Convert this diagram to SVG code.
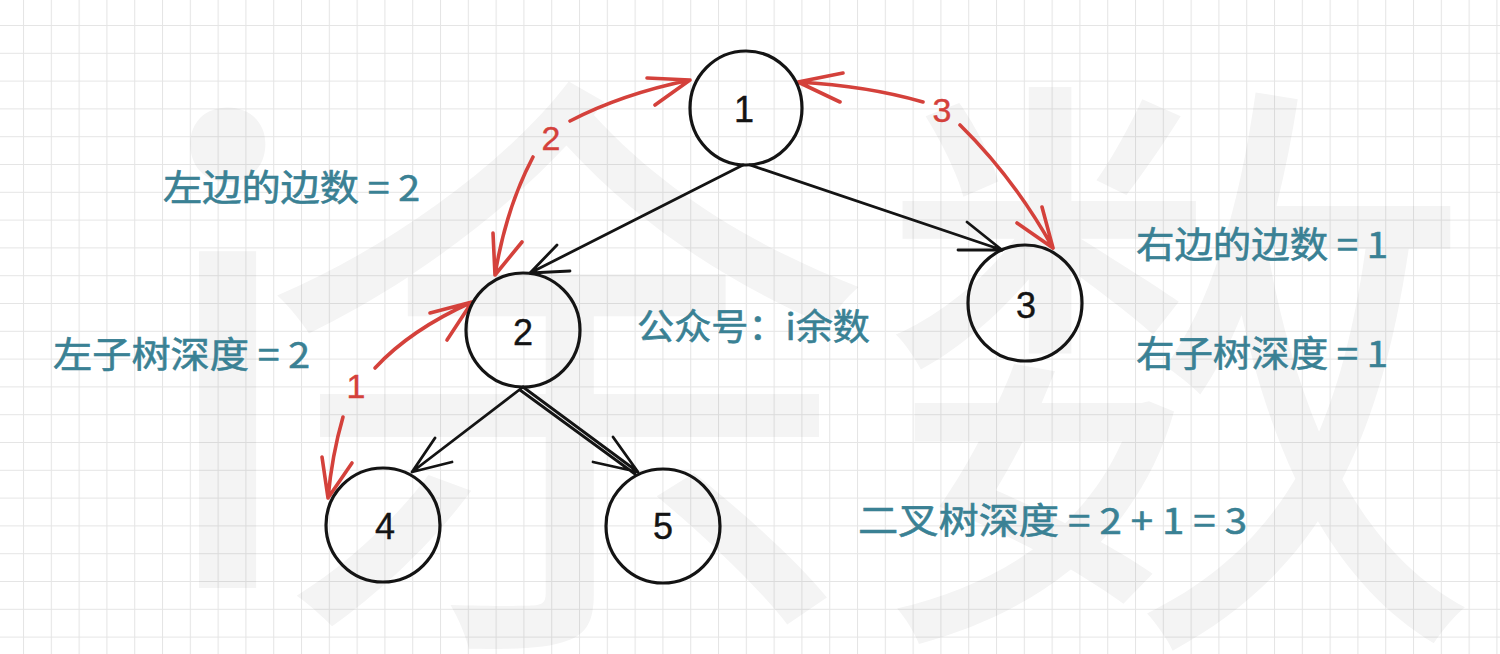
<svg xmlns="http://www.w3.org/2000/svg" width="1500" height="654" viewBox="0 0 1500 654">
<defs>
<pattern id="grid" patternUnits="userSpaceOnUse" x="23" y="25" width="27.8" height="27.8">
<path d="M0,0 H27.8 M0,0 V27.8" fill="none" stroke="rgba(0,0,0,0.1)" stroke-width="2"/>
</pattern>
<style>
.wm{font-family:"Noto Sans CJK SC","Noto Sans",sans-serif;fill:#f4f4f4;}
.lbl{font-family:"Noto Sans CJK SC","Noto Sans",sans-serif;font-size:36px;fill:#3a8194;stroke:#3a8194;stroke-width:0.6px;}
.node circle,.node ellipse{fill:none;stroke:#141414;stroke-width:3.2;}
.num{font-family:"Liberation Sans",Arial,sans-serif;font-size:36px;fill:#141414;text-anchor:middle;stroke:#141414;stroke-width:0.4px;}
.edge{fill:none;stroke:#141414;stroke-width:2.8;stroke-linecap:round;stroke-linejoin:round;}
.red{fill:none;stroke:#d4413b;stroke-width:3.6;stroke-linecap:round;stroke-linejoin:round;}
.rnum{font-family:"Liberation Sans",Arial,sans-serif;font-size:34px;fill:#d4413b;text-anchor:middle;stroke:#d4413b;stroke-width:0.4px;}
</style>
</defs>
<rect width="1500" height="654" fill="#ffffff"/>
<g id="watermark">
<text class="wm" x="142" y="588" font-size="620">i</text>
<text class="wm" x="262" y="600" font-size="610">余数</text>
</g>
<rect width="1500" height="654" fill="url(#grid)"/>
<g id="connectors">
<path class="edge" d="M743,165 L530,273 M557,245 L530,273 L570,271"/>
<path class="edge" d="M750,165 L1002,250 M967,222 L1002,250 L958,250" stroke-width="2.4"/>
<path class="edge" d="M523,387 L412,472 M435,438 L412,472 L452,462"/>
<path class="edge" d="M523,387 L638,472 M520,390 L635,474 M613,437 L638,472 L593,462"/>
<g id="arc-left-edges">
<path class="red" d="M690,80 Q622,94 570,121 M533,157 Q506,208 495,275 M647,78 L690,80 L655,105 M493,233 L495,275 L522,242"/>
<text class="rnum" x="551" y="150">2</text>
</g>
<g id="arc-right-edges">
<path class="red" d="M798,82 Q868,86 923,102 M960,125 Q1014,178 1053,248 M843,73 L798,82 L840,102 M1017,223 L1053,248 L1042,207"/>
<text class="rnum" x="942" y="122">3</text>
</g>
<g id="arc-left-depth">
<path class="red" d="M472,302 Q410,330 375,368 M343,417 Q332,455 328,498 M430,313 L472,302 L447,340 M322,457 L328,498 L352,463"/>
<text class="rnum" x="356" y="398">1</text>
</g>
</g>
<g id="node-1" class="node"><ellipse cx="746" cy="108" rx="56" ry="57"/><text class="num" x="744" y="122">1</text></g>
<g id="node-2" class="node"><ellipse cx="523" cy="330" rx="57" ry="57"/><text class="num" x="523" y="345">2</text></g>
<g id="node-3" class="node"><ellipse cx="1025" cy="303" rx="57" ry="58"/><text class="num" x="1026" y="318">3</text></g>
<g id="node-4" class="node"><ellipse cx="383" cy="525" rx="57" ry="57"/><text class="num" x="385" y="539">4</text></g>
<g id="node-5" class="node"><ellipse cx="663" cy="526" rx="57" ry="57"/><text class="num" x="663" y="539">5</text></g>
<g id="labels">
<text class="lbl" x="163" y="201" textLength="257" lengthAdjust="spacingAndGlyphs">左边的边数 = 2</text>
<text class="lbl" x="53" y="368" textLength="257" lengthAdjust="spacingAndGlyphs">左子树深度 = 2</text>
<text class="lbl" x="1136" y="258" textLength="252" lengthAdjust="spacingAndGlyphs">右边的边数 = 1</text>
<text class="lbl" x="1136" y="367" textLength="252" lengthAdjust="spacingAndGlyphs">右子树深度 = 1</text>
<text class="lbl" x="637" y="340" textLength="233" lengthAdjust="spacingAndGlyphs">公众号：i余数</text>
<text class="lbl" x="858" y="534" textLength="389" lengthAdjust="spacingAndGlyphs">二叉树深度 = 2 + 1 = 3</text>
</g>
</svg>
